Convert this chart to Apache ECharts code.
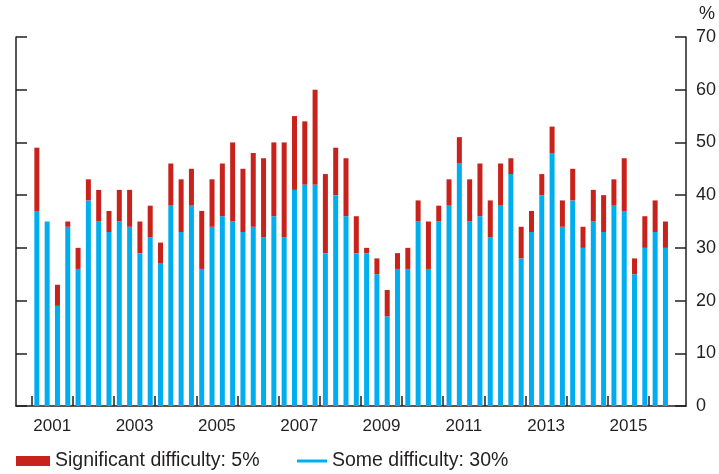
<!DOCTYPE html>
<html>
<head>
<meta charset="utf-8">
<script src="https://cdn.jsdelivr.net/npm/echarts@6/dist/echarts.min.js"></script>
<style>
html, body { margin: 0; padding: 0; background: #fff; }
#chart { width: 719px; height: 474px; }
</style>
</head>
<body>
<div id="chart"></div>
<script>
// quarterly survey, 2001 Q1 .. 2016 Q2
var firstYear = 2001;
var quarterCount = 62;

// "some difficulty" share, per quarter (%)
var someDifficulty = [
    37, 35, 19, 34, 26, 39, 35, 33, 35, 34,
    29, 32, 27, 38, 33, 38, 26, 34, 36, 35,
    33, 34, 32, 36, 32, 41, 42, 42, 29, 40,
    36, 29, 29, 25, 17, 26, 26, 35, 26, 35,
    38, 46, 35, 36, 32, 38, 44, 28, 33, 40,
    48, 34, 39, 30, 35, 33, 38, 37, 25, 30,
    33, 30
];

// "significant difficulty" share, stacked on top (%)
var significantDifficulty = [
    12, 0, 4, 1, 4, 4, 6, 4, 6, 7,
    6, 6, 4, 8, 10, 7, 11, 9, 10, 15,
    12, 14, 15, 14, 18, 14, 12, 18, 15, 9,
    11, 7, 1, 3, 5, 3, 4, 4, 9, 3,
    5, 5, 8, 10, 7, 8, 3, 6, 4, 4,
    5, 5, 6, 4, 6, 7, 5, 10, 3, 6,
    6, 5
];

// year boundaries (ticks) and labelled years
var yearTicks = [2001, 2002, 2003, 2004, 2005, 2006, 2007, 2008, 2009, 2010, 2011, 2012, 2013, 2014, 2015, 2016];
var yearLabels = ['2001', '2003', '2005', '2007', '2009', '2011', '2013', '2015'];

// quarter categories
var quarters = [];
for (var i = 0; i < quarterCount; i++) {
    quarters.push((firstYear + Math.floor(i / 4)) + ' Q' + (i % 4 + 1));
}

var ink = '#231f20';
var font = "'Liberation Sans', Arial, Helvetica, sans-serif";
var blue = '#00aeef';
var red = '#c7221b';

var nameSig = 'Significant difficulty: ' + significantDifficulty[quarterCount - 1] + '%';
var nameSome = 'Some difficulty: ' + someDifficulty[quarterCount - 1] + '%';

// frame: x runs 2000.62 .. 2016.9 (years), bars sit in their own grid from 2001 to 2016 Q2
var frame = { left: 16, right: 32, top: 37, bottom: 68 };
var xMin = 2000.619, xMax = 2016.898;
var pxPerYear = (719 - frame.left - frame.right) / (xMax - xMin);
var barGrid = {
    left: frame.left + (firstYear - xMin) * pxPerYear,
    top: frame.top,
    bottom: frame.bottom,
    width: quarterCount / 4 * pxPerYear
};

function valueAxis(pos, withLabels) {
    return {
        type: 'value',
        gridIndex: 0,
        position: pos,
        min: 0,
        max: 70,
        interval: 10,
        name: withLabels ? '%' : '',
        nameLocation: 'end',
        nameGap: 14,
        nameTextStyle: { color: ink, fontFamily: font, fontSize: 18, align: 'left', padding: [0, 0, 0, 13] },
        axisLine: { show: true, lineStyle: { color: ink, width: 1.5 } },
        axisTick: { show: true, inside: true, length: 11, lineStyle: { color: ink, width: 1.5 } },
        axisLabel: { show: withLabels, margin: 10, color: ink, fontFamily: font, fontSize: 18 },
        splitLine: { show: false }
    };
}

var legendText = { color: ink, fontFamily: font, fontSize: 19.5 };

var chart = echarts.init(document.getElementById('chart'));
chart.setOption({
    animation: false,
    grid: [frame, barGrid],
    legend: [
        { data: [nameSig], left: 16, top: 451, padding: 0, icon: 'rect', itemWidth: 34, itemHeight: 10, textStyle: legendText },
        { data: [nameSome], left: 297, top: 451, padding: 0, icon: 'rect', itemWidth: 30, itemHeight: 3, textStyle: legendText }
    ],
    xAxis: [
        {
            type: 'value',
            gridIndex: 0,
            min: xMin,
            max: xMax,
            axisLine: { show: true, onZero: false, lineStyle: { color: ink, width: 1.5 } },
            axisTick: { show: true, inside: true, length: 10, customValues: yearTicks, lineStyle: { color: ink, width: 1.5 } },
            axisLabel: {
                customValues: yearLabels.map(function(y) { return +y + 0.5; }),
                formatter: function(v) { return String(Math.floor(v)); },
                margin: 12,
                color: ink,
                fontFamily: font,
                fontSize: 17
            },
            splitLine: { show: false }
        },
        {
            type: 'category',
            gridIndex: 1,
            data: quarters,
            show: false
        }
    ],
    yAxis: [
        valueAxis('left', false),
        valueAxis('right', true),
        { type: 'value', gridIndex: 1, min: 0, max: 70, show: false }
    ],
    series: [
        {
            name: nameSome,
            type: 'bar',
            xAxisIndex: 1,
            yAxisIndex: 2,
            stack: 'share',
            barWidth: 5,
            itemStyle: { color: blue },
            data: someDifficulty
        },
        {
            name: nameSig,
            type: 'bar',
            xAxisIndex: 1,
            yAxisIndex: 2,
            stack: 'share',
            barWidth: 5,
            itemStyle: { color: red },
            data: significantDifficulty
        }
    ]
});
</script>
</body>
</html>
